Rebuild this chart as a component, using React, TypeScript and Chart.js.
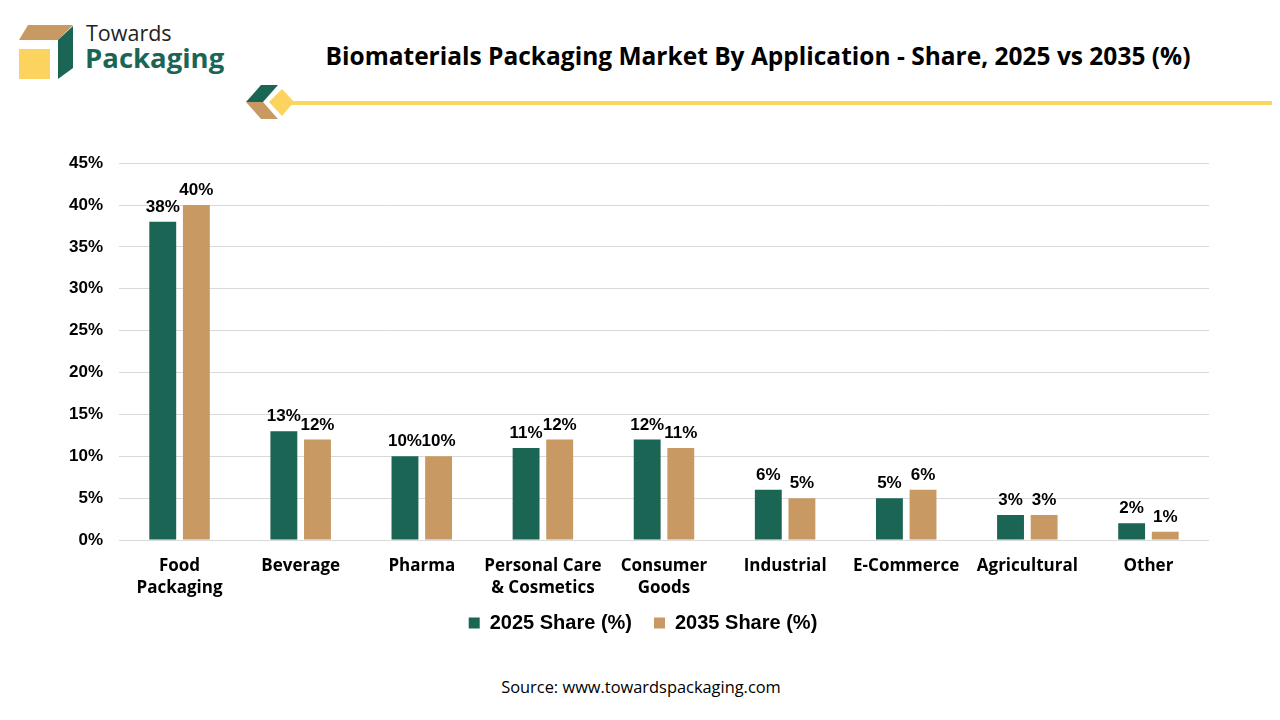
import { useEffect, useRef } from "react";
import { Chart, registerables } from "chart.js";

Chart.register(...registerables);

// categories and series
const categories = [
  ["Food", "Packaging"],
  "Beverage",
  "Pharma",
  ["Personal Care", "& Cosmetics"],
  ["Consumer", "Goods"],
  "Industrial",
  "E-Commerce",
  "Agricultural",
  "Other",
];
const share2025 = [38, 13, 10, 11, 12, 6, 5, 3, 2];
const share2035 = [40, 12, 10, 12, 11, 5, 6, 3, 1];
const seriesNames = ["2025 Share (%)", "2035 Share (%)"];

const GREEN = "#1B6555";
const TAN = "#C89963";
const LABEL_FONT = "'Open Sans', 'Noto Sans', sans-serif";
const ARIAL = "'Liberation Sans', Arial, sans-serif";

// valeurs au-dessus des barres
const valueLabels = {
  id: "valueLabels",
  afterDatasetsDraw(chart: any) {
    const ctx = chart.ctx;
    ctx.save();
    ctx.font = "bold 17px " + ARIAL;
    ctx.fillStyle = "#000";
    ctx.textAlign = "center";
    ctx.textBaseline = "alphabetic";
    chart.data.datasets.forEach((ds: any, i: number) => {
      const meta = chart.getDatasetMeta(i);
      meta.data.forEach((bar: any, j: number) => {
        ctx.fillText(ds.data[j] + "%", bar.x, bar.y - 10);
      });
    });
    ctx.restore();
  },
};

// légende décalée (droite et un peu plus haut), comme dans l'original
const legendShift = {
  id: "legendShift",
  afterLayout(chart: any) {
    const lg = chart.legend;
    if (lg) {
      lg.left += 38;
      lg.right += 38;
      lg.top -= 12;
      lg.bottom -= 12;
    }
  },
};

function BarChart() {
  const canvasRef = useRef<HTMLCanvasElement>(null);
  const chartRef = useRef<Chart | null>(null);

  useEffect(() => {
    if (!canvasRef.current) return;
    if (chartRef.current) chartRef.current.destroy();

    chartRef.current = new Chart(canvasRef.current, {
      type: "bar",
      data: {
        labels: categories,
        datasets: [
          {
            label: seriesNames[0],
            data: share2025,
            backgroundColor: GREEN,
            categoryPercentage: 0.555,
            barPercentage: 0.8,
          },
          {
            label: seriesNames[1],
            data: share2035,
            backgroundColor: TAN,
            categoryPercentage: 0.555,
            barPercentage: 0.8,
          },
        ],
      },
      options: {
        animation: false,
        responsive: false,
        maintainAspectRatio: false,
        layout: { padding: { top: 16, right: 72, left: 0, bottom: 0 } },
        plugins: {
          tooltip: { enabled: false },
          legend: {
            position: "bottom",
            labels: {
              color: "#000",
              font: { family: ARIAL, size: 20, weight: "bold" },
              boxWidth: 11,
              boxHeight: 11,
              padding: 22,
            },
          },
        },
        scales: {
          x: {
            grid: { display: false },
            border: { display: false },
            ticks: {
              color: "#000",
              padding: 7,
              maxRotation: 0,
              autoSkip: false,
              font: { family: LABEL_FONT, size: 17, weight: "bold", lineHeight: 1.3 },
            },
            afterFit(scale: any) {
              scale.height = 63;
            },
          },
          y: {
            min: 0,
            max: 45,
            ticks: {
              stepSize: 5,
              color: "#000",
              padding: 16,
              callback: (v: any) => v + "%",
              font: { family: ARIAL, size: 17, weight: "bold" },
            },
            grid: { color: "#d9d9d9", drawTicks: false },
            border: { display: false },
            afterFit(scale: any) {
              scale.width = 118;
            },
          },
        },
      },
      plugins: [valueLabels, legendShift],
    });

    return () => {
      if (chartRef.current) {
        chartRef.current.destroy();
        chartRef.current = null;
      }
    };
  }, []);

  return (
    <canvas
      ref={canvasRef}
      width={1280}
      height={518}
      style={{ position: "absolute", left: 0, top: 136, width: 1280, height: 518 }}
    />
  );
}

function Logo() {
  return (
    <svg width={400} height={130} style={{ position: "absolute", left: 0, top: 0 }}>
      <polygon points="27,24 72,24 57,39 18,39" fill="#C89963" />
      <polygon points="72,25 72,67 57,78 57,39" fill="#1B6555" />
      <rect x={18} y={48} width={31} height={30} fill="#FBD35E" />
      <text x={85} y={40} fontFamily="'Open Sans', sans-serif" fontSize={21.5} fill="#222">
        Towards
      </text>
      <text x={84} y={67} fontFamily="'Open Sans', sans-serif" fontSize={27.5} fontWeight={700} fill="#1B6555">
        Packaging
      </text>
      <polygon points="260,84 277,84 262,101 245,101" fill="#1B6555" />
      <polygon points="245,101 262,101 277,118 260,118" fill="#C89963" />
    </svg>
  );
}

export default function App() {
  return (
    <div
      style={{
        position: "relative",
        width: 1280,
        height: 720,
        margin: -8,
        background: "#fff",
        overflow: "hidden",
        boxSizing: "border-box",
        border: "1px solid #dcdcdc",
      }}
    >
      <Logo />
      <svg width={1280} height={130} style={{ position: "absolute", left: 0, top: 0 }}>
        <line x1={288} y1={102} x2={1280} y2={102} stroke="#F9D65C" strokeWidth={4} />
        <polygon points="281,88 293,101 281,115 268,101" fill="#FBD35E" />
      </svg>
      <div
        style={{
          position: "absolute",
          left: 257,
          width: 1000,
          top: 38,
          textAlign: "center",
          fontFamily: LABEL_FONT,
          fontWeight: 700,
          fontSize: 24.5,
          lineHeight: "34px",
          color: "#000",
          whiteSpace: "nowrap",
        }}
      >
        Biomaterials Packaging Market By Application - Share, 2025 vs 2035 (%)
      </div>
      <BarChart />
      <div
        style={{
          position: "absolute",
          left: 0,
          width: 1280,
          top: 674,
          textAlign: "center",
          fontFamily: LABEL_FONT,
          fontSize: 16.4,
          lineHeight: "24px",
          color: "#000",
        }}
      >
        Source: www.towardspackaging.com
      </div>
    </div>
  );
}
